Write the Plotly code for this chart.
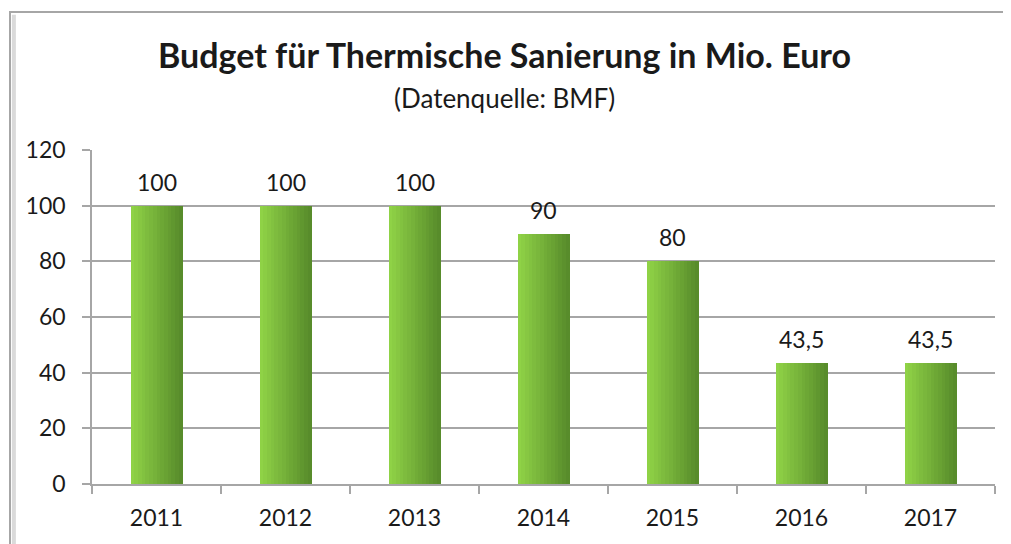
import plotly.graph_objects as go

years = ["2011", "2012", "2013", "2014", "2015", "2016", "2017"]
budget = [100, 100, 100, 90, 80, 43.5, 43.5]
labels = ["100", "100", "100", "90", "80", "43,5", "43,5"]
y_ticks = [0, 20, 40, 60, 80, 100, 120]

FONT = "Lato"
GRID = "#A6A6A6"
TXT = "#1a1a1a"

fig = go.Figure()

# horizontal gradient approximation via overlaid slices
N = 14
bar_w = 0.40
c0 = (0x8F, 0xD2, 0x46)
c1 = (0x58, 0x8C, 0x2B)
for i in range(N):
    t = i / (N - 1)
    col = "rgb(%d,%d,%d)" % tuple(round(a + (b - a) * t) for a, b in zip(c0, c1))
    fig.add_trace(go.Bar(
        x=years, y=budget,
        width=bar_w / N + 0.004,
        offset=-bar_w / 2 + i * bar_w / N,
        marker=dict(color=col, line=dict(width=0)),
        hoverinfo="skip", showlegend=False,
    ))

annotations = [
    dict(x=idx, y=v, text=lab, xref="x", yref="y", showarrow=False,
         yanchor="middle", yshift=24,
         font=dict(family=FONT, size=23, color=TXT))
    for idx, (v, lab) in enumerate(zip(budget, labels))
]
annotations += [
    dict(text="<b>Budget für Thermische Sanierung in Mio. Euro</b>",
         xref="paper", yref="paper", x=0.457, y=1.287, xanchor="center",
         yanchor="middle", showarrow=False,
         font=dict(family=FONT, size=34, color=TXT)),
    dict(text="(Datenquelle: BMF)",
         xref="paper", yref="paper", x=0.457, y=1.156, xanchor="center",
         yanchor="middle", showarrow=False,
         font=dict(family=FONT, size=26, color=TXT)),
]

fig.update_layout(
    width=1003, height=536,
    margin=dict(l=84, r=16, t=142, b=60),
    paper_bgcolor="white", plot_bgcolor="white",
    barmode="overlay", bargap=0,
    annotations=annotations,
    xaxis=dict(
        type="category", categoryorder="array", categoryarray=years,
        range=[-0.5, len(years) - 0.5], tickson="boundaries",
        ticks="outside", ticklen=8, tickcolor=GRID, tickwidth=1.5,
        showline=True, linecolor=GRID, linewidth=2,
        showgrid=False, ticklabelstandoff=12, tickangle=0,
        tickfont=dict(family=FONT, size=23, color=TXT),
    ),
    yaxis=dict(
        range=[0, 120], tickvals=y_ticks,
        ticks="outside", ticklen=8, tickcolor=GRID, tickwidth=1.5,
        showline=True, linecolor=GRID, linewidth=1.5,
        showgrid=True, gridcolor=GRID, gridwidth=1.5,
        zeroline=False, ticklabelstandoff=12,
        tickfont=dict(family=FONT, size=23, color=TXT),
    ),
    shapes=[
        dict(type="rect", xref="paper", yref="paper",
             x0=-0.0908, x1=1.2, y0=-0.5, y1=1.413,
             line=dict(color="#A6A6A6", width=2), layer="below"),
        dict(type="line", xref="paper", yref="paper",
             x0=-0.0865, x1=-0.0865, y0=-0.5, y1=1.405,
             line=dict(color="#DADADA", width=4), layer="below"),
    ],
)

fig.write_html("out.html")
